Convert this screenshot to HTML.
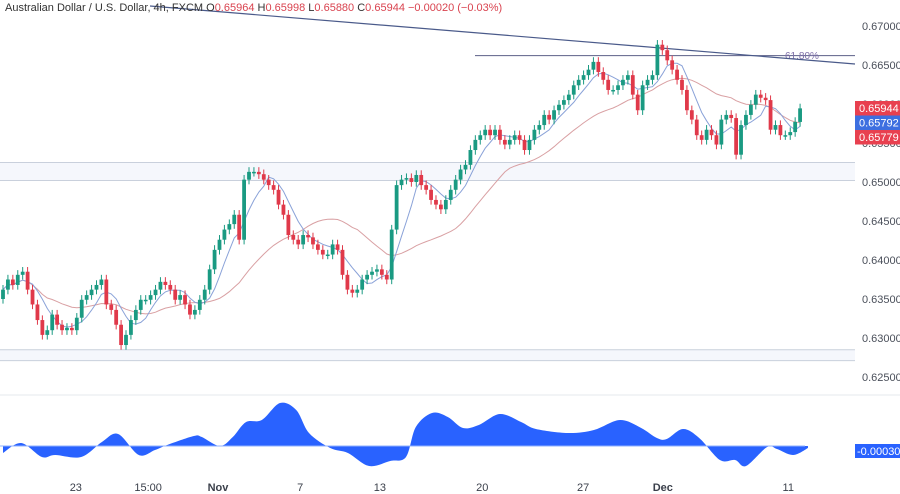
<!DOCTYPE html>
<html><head><meta charset="utf-8"><style>
body{margin:0;background:#fff;font-family:"Liberation Sans",sans-serif}
svg{display:block}
</style></head><body>
<svg id="c" width="900" height="494" viewBox="0 0 900 494"></svg>
<script>
const closes=[0.6362,0.6375,0.6368,0.6381,0.6385,0.6362,0.6343,0.6323,0.6304,0.6310,0.6330,
0.6317,0.6310,0.6313,0.6310,0.6326,0.6349,0.6355,0.6362,0.6368,0.6375,0.6343,
0.6336,0.6317,0.6291,0.6304,0.6323,0.6336,0.6349,0.6349,0.6355,0.6362,0.6372,0.6368,0.6362,0.6349,0.6355,
0.6343,0.6330,0.6336,0.6349,0.6362,
0.6388,0.6413,0.6426,0.6439,0.6446,0.6458,0.6426,0.6503,0.6513,0.6513,0.6510,0.6503,
0.6496,0.6490,0.6471,0.6458,0.6432,
0.6426,0.6420,0.6432,0.6429,0.6420,0.6413,0.6407,0.6407,0.6420,0.6413,
0.6381,0.6362,0.6358,0.6362,0.6375,0.6381,0.6385,0.6388,0.6381,0.6375,
0.6439,0.6496,0.6503,0.6505,0.6500,
0.6509,0.6496,0.6490,0.6477,0.6471,0.6465,0.6477,0.6490,0.6503,0.6516,
0.6522,0.6541,0.6554,0.6560,0.6567,0.6560,0.6567,0.6554,0.6548,0.6554,
0.6560,0.6554,0.6541,0.6554,0.6567,0.6573,0.6586,0.6580,
0.6592,0.6599,0.6605,0.6612,0.6624,0.6631,0.6637,0.6644,0.6654,0.6641,
0.6631,0.6618,0.6618,0.6624,0.6631,0.6637,
0.6612,0.6592,0.6624,0.6631,0.6637,
0.6676,0.6669,0.6656,0.6644,0.6631,
0.6618,0.6592,0.6580,0.6560,0.6554,0.6567,0.6560,
0.6548,0.6580,0.6586,0.6582,0.6535,0.6573,0.6586,0.6599,
0.6612,0.6608,0.6605,0.6567,0.6573,0.6560,
0.6560,0.6564,0.6577,0.65944];
const firstOpen=0.6350;
const wick=0.0006;
const priceTicks=[0.670,0.665,0.660,0.655,0.650,0.645,0.640,0.635,0.630,0.625];
const priceTickLabels=["0.67000","0.66500","0.66000","0.65500","0.65000","0.64500","0.64000","0.63500","0.63000","0.62500"];
const oscIdx=[0,3.7,7.9,10.6,15.9,20.1,23.4,27.6,30.9,33.9,38.8,40.4,44.1,46.7,49.4,52.6,56.3,59.6,62.2,66.5,70.1,74.4,78.7,81.9,83.9,87.2,90.4,93.5,96.7,101,105.3,108.3,114.8,120.1,125.4,129.7,132.9,134.9,138.2,141.5,145.7,148.8,151,155.3,157.3,160.6,163.6];
const oscVals=[-7,3,-11,-9,-11,4,12,-9,-4,2,10,9,0,9,24,26,43,36,13,-2,-7,-20,-15,-11,19,33,29,18,21,32,24,17,13,16,26,18,8,7,17,8,-14,-14,-20,-1,-3,-9,-2];
const xLabels=["23","15:00","Nov","7","13","20","27","Dec","11"];
const xLabelIdx=[14.8,29.5,43.7,60.4,76.6,97.4,117.9,134.1,159.6];

const svg=document.getElementById('c');const NS='http://www.w3.org/2000/svg';
function mk(t,a,p){const e=document.createElementNS(NS,t);for(const k in a)e.setAttribute(k,a[k]);(p||svg).appendChild(e);return e;}
const N=closes.length;const step=802/N;
const X=i=>3+i*step;
const Y=p=>26+(0.670-p)/0.005*39;
const OY=v=>446-v;

let z1=mk('rect',{x:0,y:Y(0.6525),width:855,height:Y(0.6502)-Y(0.6525),fill:'#f5f7fc'});
mk('line',{x1:0,x2:855,y1:Y(0.6525),y2:Y(0.6525),stroke:'#c9d0dc'});mk('line',{x1:0,x2:855,y1:Y(0.6502),y2:Y(0.6502),stroke:'#c9d0dc'});
let z2=mk('rect',{x:0,y:Y(0.6285),width:855,height:Y(0.6271)-Y(0.6285),fill:'#f5f7fc'});
mk('line',{x1:0,x2:855,y1:Y(0.6285),y2:Y(0.6285),stroke:'#c9d0dc'});mk('line',{x1:0,x2:855,y1:Y(0.6271),y2:Y(0.6271),stroke:'#c9d0dc'});
let fb=mk('line',{x1:475,x2:855,y1:Y(0.6662),y2:Y(0.6662),stroke:'#5b5f87','stroke-width':1});
let ft=mk('text',{x:785,y:59,fill:'#7e6fa8','font-size':10});ft.textContent='61.80%';
let tl=mk('line',{x1:150,y1:6,x2:855,y2:64,stroke:'#4a5a8a','stroke-width':1.2});

function sma(n){const r=[];for(let i=0;i<N;i++){let s=0,c=0;for(let j=Math.max(0,i-n+1);j<=i;j++){s+=closes[j];c++;}r.push(s/c);}return r;}
function maPath(a,col,name){let d='';a.forEach((v,i)=>d+=(i?'L':'M')+X(i).toFixed(1)+' '+Y(v).toFixed(1));const p=mk('path',{d,fill:'none',stroke:col,'stroke-width':1});}
maPath(sma(24),'#d9a0a3','slow-moving-average');
maPath(sma(6),'#8aa2d8','fast-moving-average');
const g=mk('g',{});
for(let i=0;i<N;i++){const o=i?closes[i-1]:firstOpen,c=closes[i];const up=c>=o;const col=up?'#1a9a82':'#e0394a';
const hi=Math.max(o,c)+wick,lo=Math.min(o,c)-wick;
const w=mk('line',{x1:X(i),x2:X(i),y1:Y(hi),y2:Y(lo),stroke:col,'stroke-width':1},g);
const t=Math.min(Y(o),Y(c)),h=Math.max(1.5,Math.abs(Y(o)-Y(c)));
const b=mk('rect',{x:X(i)-1.9,y:t,width:3.8,height:h,fill:col},g);}

priceTicks.forEach((p,i)=>{const t=mk('text',{x:862,y:Y(p)+4,fill:'#4a4f5a','font-size':11});t.textContent=priceTickLabels[i];});
function tag(y,col,txt,name){const r=mk('rect',{x:855,y:y,width:45,height:14.5,fill:col});const t=mk('text',{x:859,y:y+11,fill:'#fff','font-size':11});t.textContent=txt;}
tag(101,'#e8404f','0.65944','last-price-tag');tag(115.5,'#3d6fe0','0.65792','fast-ma-tag');tag(130,'#e8404f','0.65779','slow-ma-tag');

const hd=mk('text',{x:5,y:11,'font-size':11,fill:'#333'});
hd.innerHTML='Australian Dollar / U.S. Dollar, 4h, FXCM  O<tspan fill="#d9434f">0.65964</tspan>  H<tspan fill="#d9434f">0.65998</tspan>  L<tspan fill="#d9434f">0.65880</tspan>  C<tspan fill="#d9434f">0.65944</tspan>  <tspan fill="#d9434f">−0.00020 (−0.03%)</tspan>';

mk('line',{x1:0,x2:900,y1:395,y2:395,stroke:'#e6e8ec'});
const pts=oscIdx.map((ix,i)=>[X(ix),OY(oscVals[i])]);
let d='M'+pts[0][0]+' '+OY(0)+'L'+pts[0][0]+' '+pts[0][1];
for(let i=0;i<pts.length-1;i++){const p0=pts[Math.max(0,i-1)],p1=pts[i],p2=pts[i+1],p3=pts[Math.min(pts.length-1,i+2)];
const c1=[p1[0]+(p2[0]-p0[0])/6,p1[1]+(p2[1]-p0[1])/6],c2=[p2[0]-(p3[0]-p1[0])/6,p2[1]-(p3[1]-p1[1])/6];
d+='C'+c1[0].toFixed(1)+' '+c1[1].toFixed(1)+' '+c2[0].toFixed(1)+' '+c2[1].toFixed(1)+' '+p2[0].toFixed(1)+' '+p2[1].toFixed(1);}
d+='L'+pts[pts.length-1][0]+' '+OY(0)+'Z';
const oa=mk('path',{d,fill:'#2962ff'});
mk('line',{x1:0,x2:805,y1:446,y2:446,stroke:'#8fb0ff','stroke-width':1});
const or=mk('rect',{x:855,y:444,width:45,height:14,fill:'#2962ff'});
const ot=mk('text',{x:857,y:455,fill:'#fff','font-size':11});ot.textContent='-0.00030';

xLabels.forEach((l,i)=>{const bold=(l==='Nov'||l==='Dec');const t=mk('text',{x:X(xLabelIdx[i]),y:491,'text-anchor':'middle','font-size':11,fill:'#3a3f4a','font-weight':bold?'bold':'normal'});t.textContent=l;});
</script>
</body></html>
